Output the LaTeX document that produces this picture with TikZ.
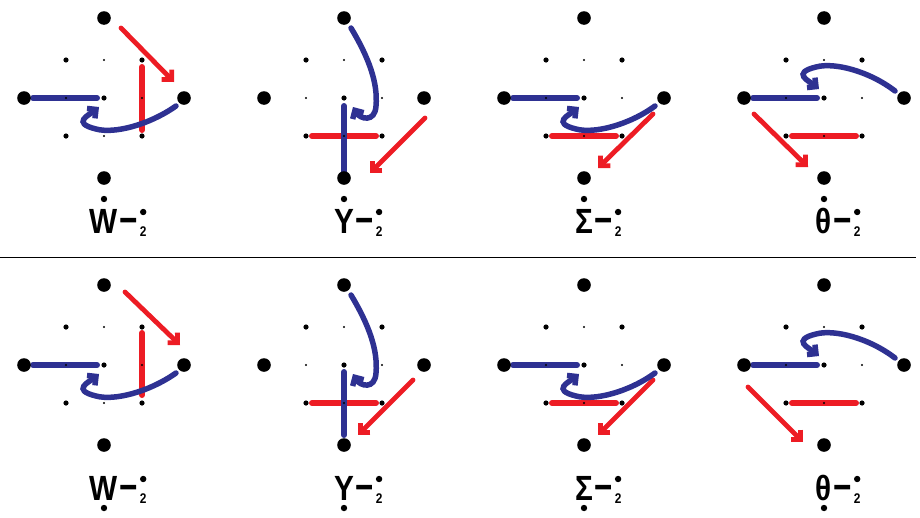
\documentclass[tikz,border=0pt]{standalone}
\usepackage{fontspec}
\newfontfamily\lblfont[FakeStretch=0.85]{Liberation Sans}
\newfontfamily\dashfont[FakeStretch=0.85,FakeBold=2.5]{Liberation Sans}
\usetikzlibrary{arrows.meta}
\definecolor{moveblue}{RGB}{46,49,146}
\definecolor{movered}{RGB}{237,28,36}
\tikzset{
  bluebar/.style={line width=6pt, color=moveblue, line cap=round},
  redbar/.style={line width=6pt, color=movered, line cap=round},
  bluehook/.style={line width=5.5pt, color=moveblue, line cap=round, -{Straight Barb[angle=90:9pt]}},
  redarrow/.style={line width=4.8pt, color=movered, line cap=round, -{Straight Barb[angle=90:10pt]}},
  lettr/.style={inner sep=0pt, font=\lblfont\bfseries\fontsize{35pt}{35pt}\selectfont},
  subtwo/.style={inner sep=0pt, font=\lblfont\bfseries\fontsize{14pt}{14pt}\selectfont}
}
% dot lattice of one panel: four big dots, 3x3 small ones
\newcommand{\lattice}{%
  \fill (0,80) circle (6.8pt) (-80,0) circle (6.8pt) (80,0) circle (6.8pt) (0,-80) circle (6.8pt);
  \foreach \i in {-38,38} \foreach \j in {-38,38} \fill (\i,\j) circle (2.6pt);
  \fill (0,0) circle (2.6pt);
  \fill (0,38) circle (1.1pt) (0,-38) circle (1.1pt) (-38,0) circle (1.1pt) (38,0) circle (1.1pt);
}
% label under a panel: #1 name, #2 letter, #3 height of the letter's dot
\newcommand{\chlabel}[3]{%
  \node[lettr, anchor=base] (#1) at (0,-135) {#2};
  \node[lettr, anchor=base west] (#1m) at ([xshift=1.5pt]#1.base east) {\raisebox{3.5pt}{\dashfont –}};
  \node[subtwo, anchor=base west] (#1t) at ([xshift=3pt,yshift=-3pt]#1m.base east) {2};
  \coordinate (#1c) at (0,-114);
  \fill (0,#3) circle (3.2pt) (#1t |- #1c) circle (3.2pt);
}
\begin{document}
\begin{tikzpicture}[x=1pt,y=1pt]
  \useasboundingbox (0,0) rectangle (920,-517);
  \draw[line width=1pt] (0,-257.5) -- (916,-257.5);   % separator

  % ---------- top row ----------
  \begin{scope}[shift={(104,-98)}]
    \draw[redbar] (38,31) -- (38,-32);
    \draw[redarrow] (17,70) -- (70,16);
    \draw[bluebar] (-71,0) -- (-7,0);
    \draw[bluehook] (72,-8) .. controls (45,-27) and (10,-36) .. (-8,-31)
      .. controls (-33,-25) and (-15,-17) .. (-5,-9);
    \lattice
    \chlabel{wa}{W}{-101}
  \end{scope}
  \begin{scope}[shift={(344,-98)}]
    \draw[redbar] (-32,-38) -- (32,-38);
    \draw[redarrow] (81,-20) -- (26,-75);
    \draw[bluebar] (0,-8) -- (0,-77);
    \draw[bluehook] (7,70) .. controls (25,40) and (34,15) .. (32,-8)
      .. controls (31,-25) and (16,-21) .. (9,-9);
    \lattice
    \chlabel{ya}{Y}{-101}
  \end{scope}
  \begin{scope}[shift={(584,-98)}]
    \draw[redbar] (-32,-38) -- (32,-38);
    \draw[redarrow] (69,-16) -- (14,-70);
    \draw[bluebar] (-71,0) -- (-7,0);
    \draw[bluehook] (71,-8) .. controls (45,-27) and (10,-36) .. (-8,-31)
      .. controls (-33,-25) and (-15,-17) .. (-5,-9);
    \lattice
    \chlabel{sa}{Σ}{-101}
  \end{scope}
  \begin{scope}[shift={(824,-98)}]
    \draw[redbar] (-32,-38) -- (32,-38);
    \draw[redarrow] (-70,-16) -- (-16,-69);
    \draw[bluebar] (-71,0) -- (-7,0);
    \draw[bluehook] (71,7) .. controls (45,27) and (10,36) .. (-8,31)
      .. controls (-33,25) and (-15,17) .. (-5,9);
    \lattice
    \chlabel{ta}{θ}{-101}
  \end{scope}

  % ---------- bottom row ----------
  \begin{scope}[shift={(104,-365)}]
    \draw[redbar] (38,32) -- (38,-30);
    \draw[redarrow] (21,73) -- (76,20);
    \draw[bluebar] (-71,0) -- (-7,0);
    \draw[bluehook] (72,-8) .. controls (45,-27) and (10,-36) .. (-8,-31)
      .. controls (-33,-25) and (-15,-17) .. (-5,-9);
    \lattice
    \chlabel{wb}{W}{-143}
  \end{scope}
  \begin{scope}[shift={(344,-365)}]
    \draw[redbar] (-32,-38) -- (32,-38);
    \draw[redarrow] (69,-15) -- (14,-70);
    \draw[bluebar] (0,-7) -- (0,-70);
    \draw[bluehook] (7,70) .. controls (25,40) and (34,15) .. (32,-8)
      .. controls (31,-25) and (16,-21) .. (9,-9);
    \lattice
    \chlabel{yb}{Y}{-143}
  \end{scope}
  \begin{scope}[shift={(584,-365)}]
    \draw[redbar] (-32,-38) -- (32,-38);
    \draw[redarrow] (69,-15) -- (14,-70);
    \draw[bluebar] (-71,0) -- (-7,0);
    \draw[bluehook] (71,-8) .. controls (45,-27) and (10,-36) .. (-8,-31)
      .. controls (-33,-25) and (-15,-17) .. (-5,-9);
    \lattice
    \chlabel{sb}{Σ}{-143}
  \end{scope}
  \begin{scope}[shift={(824,-365)}]
    \draw[redbar] (-32,-38) -- (32,-38);
    \draw[redarrow] (-76,-22) -- (-21,-77);
    \draw[bluebar] (-71,0) -- (-7,0);
    \draw[bluehook] (71,7) .. controls (45,27) and (10,36) .. (-8,31)
      .. controls (-33,25) and (-15,17) .. (-5,9);
    \lattice
    \chlabel{tb}{θ}{-143}
  \end{scope}
\end{tikzpicture}
\end{document}
